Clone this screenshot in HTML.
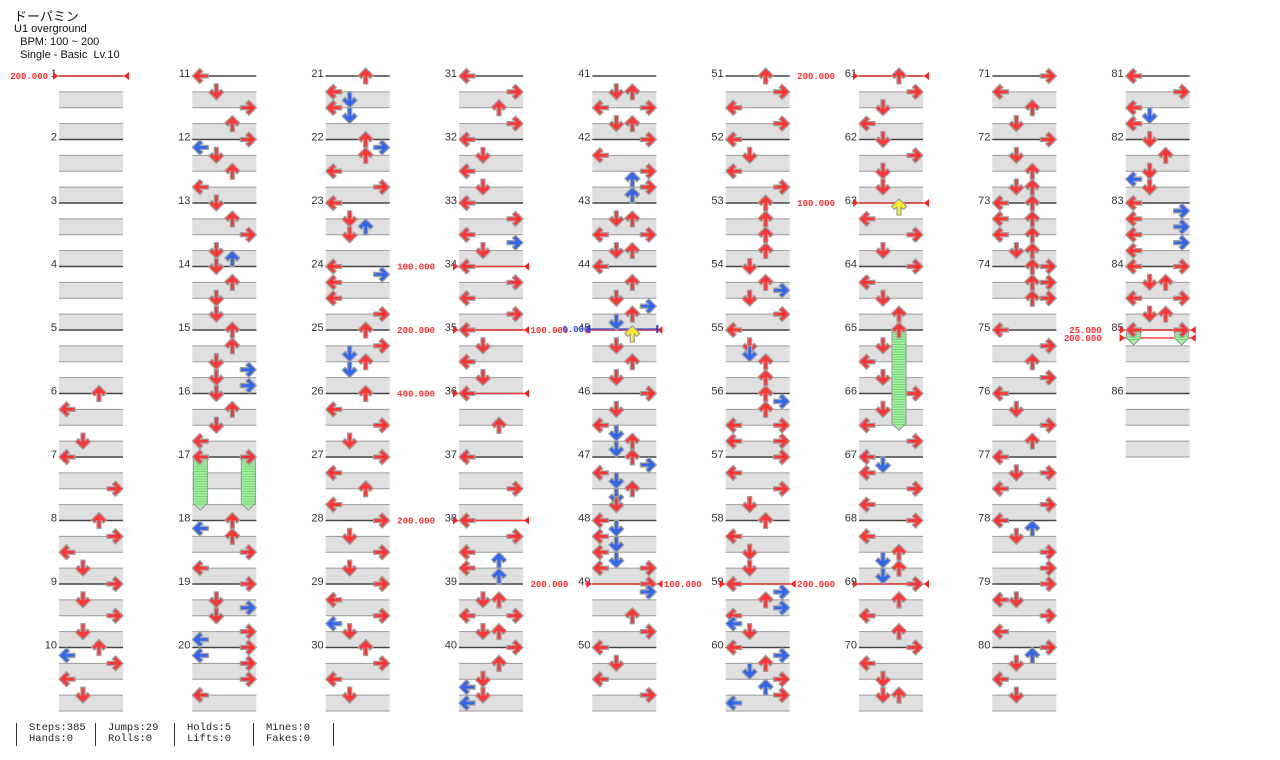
<!DOCTYPE html>
<html><head><meta charset="utf-8">
<style>
html,body{margin:0;padding:0;background:#fff;}
body{width:1280px;height:760px;overflow:hidden;position:relative;font-family:"Liberation Sans","Noto Sans CJK JP",sans-serif;}
.hdr{position:absolute;left:14px;color:#111;white-space:pre;}
.stats{position:absolute;top:723px;font-family:"Liberation Mono",monospace;font-size:10.5px;line-height:11px;color:#222;white-space:pre;}
.bar{position:absolute;top:723px;width:1px;height:23px;background:#333;}
</style></head>
<body>
<div class="hdr" style="top:6px;font-size:13px;font-family:'Noto Sans CJK JP',sans-serif;">ドーパミン</div>
<div class="hdr" style="top:23px;font-size:11px;">U1 overground</div>
<div class="hdr" style="top:36px;font-size:11px;">  BPM: 100 ~ 200</div>
<div class="hdr" style="top:49px;font-size:11px;">  Single - Basic  Lv.10</div>

<svg id="chart" width="1280" height="720" style="position:absolute;left:0;top:0"></svg>

<div class="bar" style="left:16px"></div>
<div class="stats" style="left:29px">Steps:385
Hands:0</div>
<div class="bar" style="left:95px"></div>
<div class="stats" style="left:108px">Jumps:29
Rolls:0</div>
<div class="bar" style="left:174px"></div>
<div class="stats" style="left:187px">Holds:5
Lifts:0</div>
<div class="bar" style="left:253px"></div>
<div class="stats" style="left:266px">Mines:0
Fakes:0</div>
<div class="bar" style="left:333px"></div>

<script>
const measureNotes = [
"","","","","",
"0:U 4:L 12:D","0:L 8:R","0:U 4:R 8:L 12:D","0:R 4:D 8:R 12:D","0:U 2:L 4:R 8:L 12:D",
"0:L 4:D 8:R 12:U","0:R 2:L 4:D 8:U 12:L","0:D 4:U 8:R 12:D 14:U","0:D 4:U 8:D 12:D","0:U 4:U 8:D 10:R 12:D 14:R",
"0:D 4:U 8:D 12:L","0:LR","0:U 2:L 4:U 8:R 12:L","0:R 4:D 6:R 8:D 12:R 14:L","0:R 2:L 4:R 8:R 12:L",
"0:U 4:L 6:D 8:L 10:D","0:U 2:R 4:U 8:L 12:R","0:L 4:D 6:U 8:D","0:L 2:R 4:L 8:L 12:R","0:U 4:R 6:D 8:U 10:D",
"0:U 4:L 8:R 12:D","0:R 4:L 8:U 12:L","0:R 4:D 8:R 12:D","0:R 4:L 8:R 10:L 12:D","0:U 4:R 8:L 12:D",
"0:L 4:R 8:U 12:R","0:L 4:D 8:L 12:D","0:L 4:R 8:L 10:R 12:D","0:L 4:R 8:L 12:R","0:L 4:D 8:L 12:D",
"0:L 8:U","0:L 8:R","0:L 4:R 8:L 10:U 12:L 14:U","4:DU 8:LR 12:DU","0:R 4:U 8:D 10:L 12:D 14:L",
"4:DU 8:LR 12:DU","0:R 4:L 8:R 10:U 12:R 14:U","4:DU 8:LR 12:DU","0:L 4:U 8:D 10:R 12:U 14:D","1:U 4:D 8:U 12:D",
"0:R 4:D 8:L 10:D 12:U 14:D","0:U 2:R 4:L 6:D 8:U 10:D 12:D","0:L 2:D 4:L 6:D 8:L 10:D 12:LR","0:R 2:R 8:U 12:R","0:L 4:D 8:L 12:R",
"0:U 4:R 8:L 12:R","0:L 4:D 8:L 12:R","0:U 4:U 8:U 12:U","0:D 4:U 6:R 8:D 12:R","0:L 4:D 6:D 8:U 12:U",
"0:U 2:R 4:U 8:LR 12:LR","0:R 4:L 8:R 12:D","0:U 4:L 8:D 12:D","0:L 2:R 4:U 6:R 8:L 10:L 12:D","0:L 2:R 4:U 6:D 8:R 10:U 12:R 14:L",
"0:U 4:R 8:D 12:L","0:D 4:R 8:D 12:D","1:U 4:L 8:R 12:D","0:R 4:L 8:D 12:U","0:U 4:D 8:L 12:D",
"0:R 4:D 8:L 12:R","0:L 2:D 4:L 8:R 12:L","0:R 4:L 8:U 10:D 12:U 14:D","0:R 4:U 8:L 12:U","0:R 4:L 8:D 12:DU",
"0:R 4:L 8:U 12:D","0:R 4:D 8:U 12:DU","0:LU 4:LU 8:LU 12:DU","0:UR 4:UR 8:UR","0:L 4:R 8:U 12:R",
"0:L 4:D 8:R 12:U","0:L 4:DR 8:L 12:R","0:L 2:U 4:D 8:R 12:R","0:R 4:LD 8:R 12:L","0:R 2:U 4:D 8:L 12:D",
"0:L 4:R 8:L 10:D 12:L","0:D 4:U 8:D 10:L 12:D","0:L 2:R 4:L 6:R 8:L 10:R 12:L","0:LR 4:DU 8:LR 12:DU","0:LR",
""
];
// holds: start measure, start pos, lane, end measure, end pos
const holdStartMeasure = [17, 17, 65, 85, 85];
const holdStartPos = [0, 0, 0, 0, 0];
const holdLane = ["L", "R", "U", "L", "R"];
const holdEndMeasure = [17, 17, 66, 85, 85];
const holdEndPos = [13.4, 13.4, 9.3, 3.8, 3.8];
// bpm changes
const bpmMeasure = [1, 34, 35, 36, 38, 45, 49, 59, 61, 63, 69, 85, 85];
const bpmPos = [0, 0, 0, 0, 0, 0, 0, 0, 0, 0, 0, 0, 2];
const bpmLabel = ["200.000","100.000","200.000","400.000","200.000","100.000","200.000","100.000","200.000","100.000","200.000","25.000","200.000"];
const totalMeasures = 86;

const NS = "http://www.w3.org/2000/svg";
const svg = document.getElementById("chart");
const MH = 63.5, COLW = 133.333, LW = 64;
const laneIdx = {L:0, D:1, U:2, R:3};
const laneRot = {L:-90, D:180, U:0, R:90};
function mx(m){ return 59 + Math.floor((m-1)/10)*COLW; }
function my(m, p){ return 76 + ((m-1)%10)*MH + p*MH/16; }
function lx(m, lane){ return mx(m) + 8 + laneIdx[lane]*16; }
function mk(tag, attrs, parent){
  const e = document.createElementNS(NS, tag);
  for (const k in attrs) e.setAttribute(k, attrs[k]);
  (parent||svg).appendChild(e);
  return e;
}

for (let m = 1; m <= totalMeasures; m++) {
  const x = mx(m), y = my(m, 0);
  const g = mk("g", {});
  
  
  for (const b of [1, 3]) {
    const y1 = y + b*MH/4, y2 = y + (b+1)*MH/4;
    mk("rect", {x:x, y:y1, width:LW, height:y2-y1, fill:"#e0e0e0"}, g);
    mk("line", {x1:x, x2:x+LW, y1:y1, y2:y1, stroke:"#9a9a9a", "stroke-width":1}, g);
    mk("line", {x1:x, x2:x+LW, y1:y2, y2:y2, stroke:"#9a9a9a", "stroke-width":1}, g);
  }
  mk("line", {x1:x, x2:x+LW, y1:y, y2:y, stroke:"#444", "stroke-width":1.4}, g);
  const t = mk("text", {x:x-2, y:y+1, "text-anchor":"end", "font-size":"11", fill:"#333", "font-family":"Liberation Sans, sans-serif"}, g);
  t.textContent = m;
  
  
}

for (let i = 0; i < bpmMeasure.length; i++) {
  const m = bpmMeasure[i], x = mx(m), y = my(m, bpmPos[i]);
  const g = mk("g", {});
  
  
  mk("line", {x1:x-6, x2:x+70, y1:y, y2:y, stroke:"#ff3030", "stroke-width":1.3}, g);
  mk("polygon", {points:`${x-6},${y-4} ${x-1},${y} ${x-6},${y+4}`, fill:"#ff2020"}, g);
  mk("polygon", {points:`${x+70},${y-4} ${x+65},${y} ${x+70},${y+4}`, fill:"#ff2020"}, g);
  const lblX = (m < 10) ? x-11 : x-24;
  const t = mk("text", {x:lblX, y:y+3, "text-anchor":"end", "font-size":"9", fill:"#ff3030", "font-family":"Liberation Mono, monospace", "font-weight":"bold"}, g);
  t.textContent = bpmLabel[i];
}
(function(){
  const x = mx(45), y = my(45, 0);
  const g = mk("g", {});
  
  
  mk("line", {x1:x-4, x2:x+66, y1:y-1, y2:y-1, stroke:"#3050e0", "stroke-width":1.3}, g);
  mk("rect", {x:x-4, y:y-5, width:2, height:8, fill:"#2040d0"}, g);
  mk("rect", {x:x+64, y:y-5, width:2, height:8, fill:"#2040d0"}, g);
  const t = mk("text", {x:x-3, y:y+2, "text-anchor":"end", "font-size":"9", fill:"#3050e0", "font-family":"Liberation Mono, monospace", "font-weight":"bold"}, g);
  t.textContent = "0.000";
})();

for (let i = 0; i < holdLane.length; i++) {
  const cx = lx(holdStartMeasure[i], holdLane[i]);
  const y1 = my(holdStartMeasure[i], holdStartPos[i]);
  const y2 = my(holdEndMeasure[i], holdEndPos[i]);
  const g = mk("g", {});
  
  
  mk("polygon", {points:`${cx-7},${y1} ${cx+7},${y1} ${cx+7},${y2-7} ${cx},${y2} ${cx-7},${y2-7}`, fill:"#a8eea8", stroke:"#909090", "stroke-width":1}, g);
  for (let yy = y1+2; yy < y2-5; yy += 2.5) {
    mk("line", {x1:cx-6, x2:cx+6, y1:yy, y2:yy, stroke:"#5cd65c", "stroke-width":0.8}, g);
  }
}

const arrowPts = "0,-8 7.5,-0.5 4.5,2.5 2,0 2,8 -2,8 -2,0 -4.5,2.5 -7.5,-0.5";
for (let m = 1; m <= measureNotes.length; m++) {
  const s = measureNotes[m-1].trim();
  if (!s) continue;
  for (const tok of s.split(/\s+/)) {
    const [p, lanes] = tok.split(":");
    const pos = parseFloat(p);
    const col = pos % 4 === 0 ? "#ff3535" : (pos % 2 === 0 ? "#3366ee" : "#ffee22");
    for (const lane of lanes) {
      const cx = lx(m, lane), cy = my(m, pos);
      const g = mk("g", {transform:`translate(${cx},${cy}) rotate(${laneRot[lane]})`});
      
      
      mk("polygon", {points:arrowPts, fill:col, stroke:"#a0a0a0", "stroke-width":1.3, "stroke-linejoin":"round"}, g);
    }
  }
}
</script>
</body></html>
